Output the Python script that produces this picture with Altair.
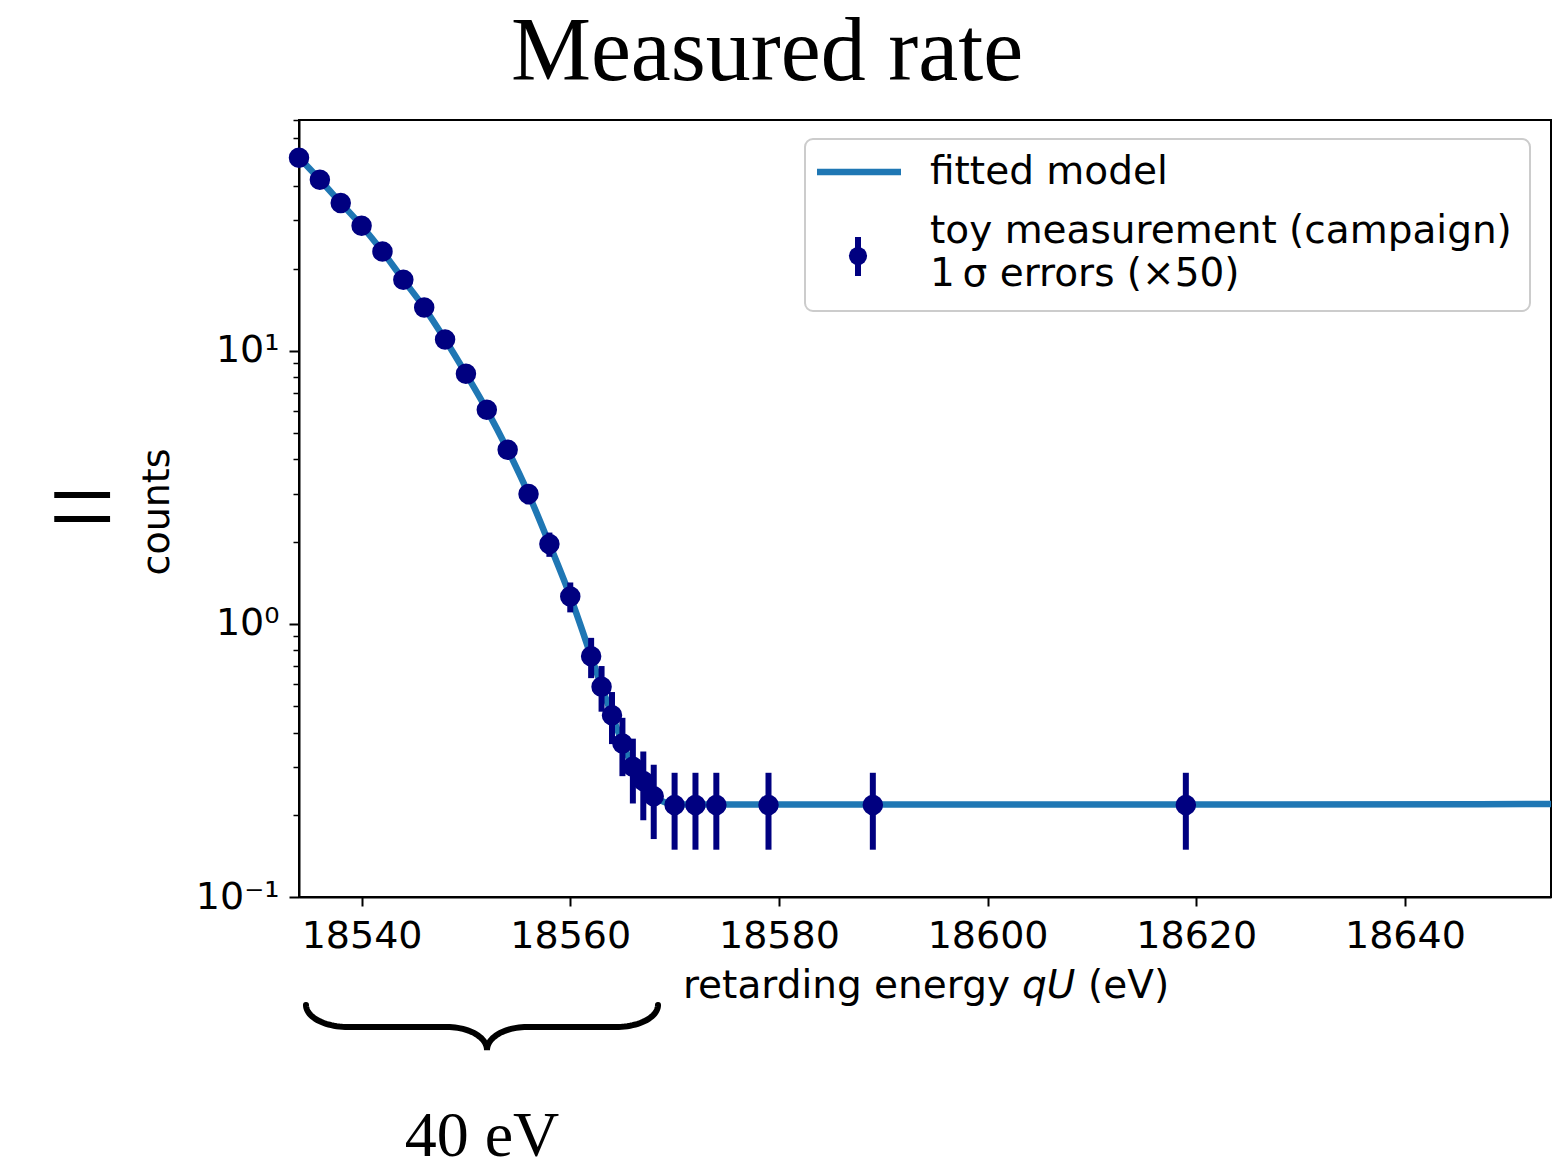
import altair as alt
import pandas as pd
import numpy as np

# ---------------- data ----------------
energy = [18534, 18536, 18538, 18540, 18542, 18544, 18546, 18548, 18550, 18552,
          18554, 18556, 18558, 18560, 18562, 18563, 18564, 18565, 18566, 18567,
          18568, 18570, 18572, 18574, 18579, 18589, 18619]
counts = [50.9, 42.3, 34.8, 28.7, 23.1, 18.2, 14.4, 11.0, 8.24, 6.08,
          4.34, 2.99, 1.96, 1.26, 0.761, 0.589, 0.463, 0.365, 0.300, 0.266,
          0.234, 0.217, 0.217, 0.217, 0.217, 0.217, 0.217]
errors = [1.03, 0.94, 0.86, 0.78, 0.70, 0.62, 0.55, 0.48, 0.42, 0.36,
          0.30, 0.25, 0.20, 0.158, 0.128, 0.112, 0.100, 0.088, 0.080, 0.075,
          0.071, 0.068, 0.068, 0.068, 0.068, 0.068, 0.068]

model_energy = [18534, 18536, 18538, 18540, 18542, 18544, 18546, 18548, 18550, 18552,
                18554, 18556, 18558, 18560, 18562, 18563, 18564, 18565, 18566, 18567,
                18568, 18570, 18572, 18574, 18579, 18589, 18619, 18654]
model_counts = [51.0, 42.3, 34.8, 28.7, 23.1, 18.2, 14.4, 11.0, 8.24, 6.08,
                4.34, 2.99, 1.96, 1.26, 0.761, 0.589, 0.463, 0.367, 0.300, 0.260,
                0.233, 0.219, 0.218, 0.218, 0.218, 0.218, 0.218, 0.219]

x_ticks = [18540, 18560, 18580, 18600, 18620, 18640]
y_major = [0.1, 1, 10]
y_minor = [0.2, 0.3, 0.4, 0.5, 0.6, 0.7, 0.8, 0.9,
           2, 3, 4, 5, 6, 7, 8, 9, 20, 30, 40, 50, 60, 70]

meas = pd.DataFrame({"energy": energy, "counts": counts, "err": errors})
meas["lower"] = meas["counts"] - meas["err"]
meas["upper"] = meas["counts"] + meas["err"]
model = pd.DataFrame({"energy": model_energy, "counts": model_counts})

# ---------------- layout ----------------
L, T = 299, 120          # plot-area origin in page pixels
W, H = 1252, 777
NAVY = "#000080"
BLUE = "#1f77b4"
SANS = "DejaVu Sans"
SERIF = "Liberation Serif"

xscale = alt.Scale(domain=[18534, 18654], nice=False, zero=False)
yscale = alt.Scale(type="log", domain=[0.1, 70], nice=False)

xaxis = alt.Axis(values=x_ticks, format="d", title=None, grid=False, orient="bottom",
                 labelFont=SANS, labelFontSize=38, labelColor="black",
                 labelPadding=11, tickSize=9, tickWidth=2, tickColor="black",
                 domainColor="black", domainWidth=2, labelFlush=False)

line = alt.Chart(model).mark_line(color=BLUE, strokeWidth=6.5, interpolate="monotone").encode(
    x=alt.X("energy:Q", scale=xscale, axis=xaxis),
    y=alt.Y("counts:Q", scale=yscale, axis=None),
)

bars = alt.Chart(meas).mark_rule(color=NAVY, strokeWidth=6).encode(
    x=alt.X("energy:Q", scale=xscale, axis=xaxis),
    y=alt.Y("lower:Q", scale=yscale,
            axis=alt.Axis(values=y_minor, labels=False, title=None, domain=False, grid=False,
                          tickSize=6, tickWidth=1.5, tickColor="black", orient="left")),
    y2="upper:Q",
)

points = alt.Chart(meas).mark_circle(color=NAVY, size=420, opacity=1).encode(
    x=alt.X("energy:Q", scale=xscale, axis=xaxis),
    y=alt.Y("counts:Q", scale=yscale,
            axis=alt.Axis(values=y_major, title=None, grid=False, orient="left",
                          labelExpr="datum.value >= 9 ? '10¹' : (datum.value >= 0.9 ? '10⁰' : '10⁻¹')",
                          labelFont=SANS, labelFontSize=38, labelColor="black",
                          labelPadding=10, tickSize=10, tickWidth=2, tickColor="black",
                          domainColor="black", domainWidth=2)),
)

one = alt.Data(values=[{"k": 1}])


def txt(text, X, Y, size, font=SANS, align="center", baseline="middle", **kw):
    return alt.Chart(one).mark_text(text=text, fontSize=size, font=font, align=align,
                                    baseline=baseline, color="black", **kw).encode(
        x=alt.value(X - L), y=alt.value(Y - T))


texts = [
    txt("Measured rate", 767, 80, 90, font=SERIF, baseline="alphabetic"),
    txt("=", 82, 511, 120, font=SERIF),
    txt("counts", 158, 512, 38, angle=270),
    txt("40 eV", 482, 1156, 64, font=SERIF, baseline="alphabetic"),
    txt("retarding energy", 1010, 998, 39, align="right", baseline="alphabetic"),
    txt("qU", 1022, 998, 39, align="left", baseline="alphabetic", fontStyle="italic"),
    txt("(eV)", 1088, 998, 39, align="left", baseline="alphabetic"),
]

# legend (drawn by hand)
legend_box = alt.Chart(one).mark_rect(fill="white", stroke="#cccccc", strokeWidth=2,
                                      cornerRadius=8).encode(
    x=alt.value(805 - L), x2=alt.value(1530 - L), y=alt.value(139 - T), y2=alt.value(311 - T))
legend_line = alt.Chart(one).mark_rule(color=BLUE, strokeWidth=6.5).encode(
    x=alt.value(817 - L), x2=alt.value(901 - L), y=alt.value(172 - T))
legend_bar = alt.Chart(one).mark_rule(color=NAVY, strokeWidth=6).encode(
    x=alt.value(858 - L), y=alt.value(237 - T), y2=alt.value(276 - T))
legend_dot = alt.Chart(one).mark_circle(color=NAVY, size=330, opacity=1).encode(
    x=alt.value(858 - L), y=alt.value(256 - T))
legend_texts = [
    txt("fitted model", 930, 172, 39, align="left"),
    txt("toy measurement (campaign)", 930, 231, 39, align="left"),
    txt("1\u2009σ errors (×50)", 930, 274, 39, align="left"),
]


# curly brace under the first part of the axis (decorative annotation)
def brace_path(x0, x1, xm, ytop, ymid, ybot, r_end, r_mid, n=24):
    t = np.linspace(0, np.pi / 2, n)
    tr = t[::-1]
    pts = []
    pts += list(zip(x0 + r_end - r_end * np.cos(t), ytop + (ymid - ytop) * np.sin(t)))
    pts += list(zip(xm - r_mid + r_mid * np.sin(t), ybot - (ybot - ymid) * np.cos(t)))
    pts += list(zip(xm + r_mid - r_mid * np.sin(tr), ybot - (ybot - ymid) * np.cos(tr)))
    pts += list(zip(x1 - r_end + r_end * np.cos(tr), ytop + (ymid - ytop) * np.sin(tr)))
    return pts


bp = brace_path(306, 658, 487, 1005, 1027, 1050, 42, 40)
brace_df = pd.DataFrame({"px": [p[0] - L for p in bp], "py": [p[1] - T for p in bp],
                         "i": list(range(len(bp)))})
brace = alt.Chart(brace_df).mark_line(color="black", strokeWidth=6, strokeCap="round").encode(
    x=alt.X("px:Q", scale=None),
    y=alt.Y("py:Q", scale=None),
    order="i:Q",
)

chart = alt.layer(
    line, bars, points, legend_box, legend_line, legend_bar, legend_dot,
    *legend_texts, *texts, brace
).resolve_axis(y="independent").properties(
    width=W, height=H,
    padding={"left": L, "top": T, "right": 1568 - L - W, "bottom": 1171 - T - H},
    autosize=alt.AutoSizeParams(type="none"),
    background="white",
).configure_view(stroke="black", strokeWidth=2)

chart.save("out.html", embed_options={"renderer": "svg", "actions": False})
